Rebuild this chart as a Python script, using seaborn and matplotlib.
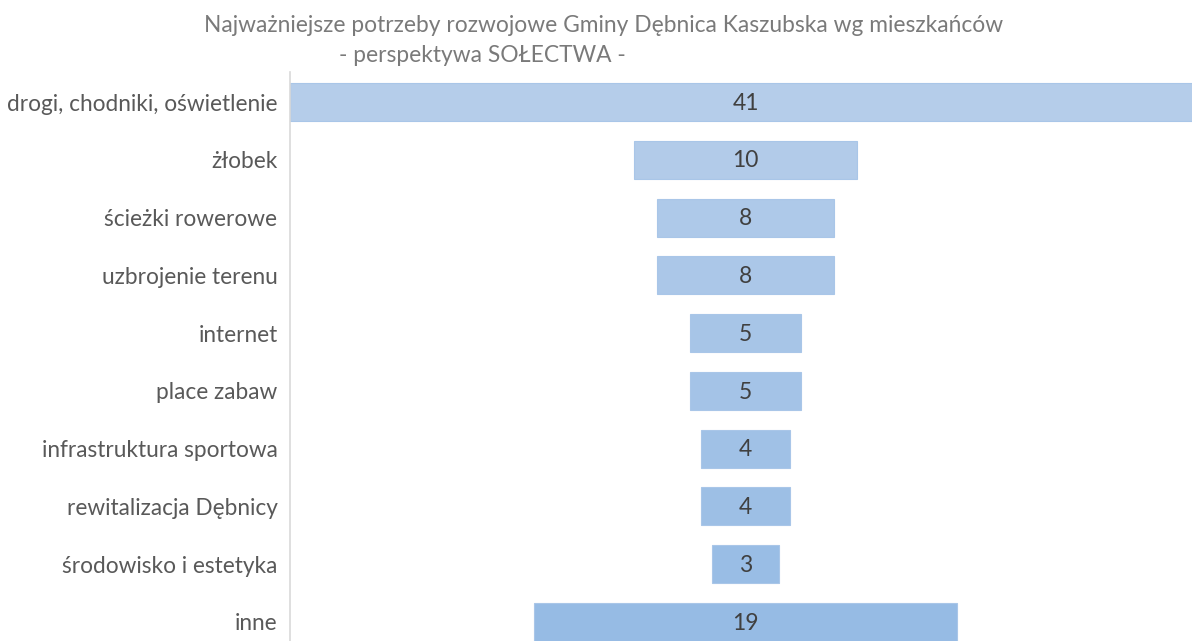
import numpy as np
import pandas as pd
import seaborn as sns
import matplotlib.pyplot as plt

categories = ["drogi, chodniki, oświetlenie", "żłobek", "ścieżki rowerowe",
              "uzbrojenie terenu", "internet", "place zabaw",
              "infrastruktura sportowa", "rewitalizacja Dębnicy",
              "środowisko i estetyka", "inne"]
values = [41, 10, 8, 8, 5, 5, 4, 4, 3, 19]
title_line1 = "Najważniejsze potrzeby rozwojowe Gminy Dębnica Kaszubska wg mieszkańców"
title_line2 = "- perspektywa SOŁECTWA -"

df = pd.DataFrame({"kategoria": categories, "liczba": values})
max_v = df["liczba"].max()
df["lewo"] = (max_v - df["liczba"]) / 2

sns.set_theme(style="white")
plt.rcParams['font.family'] = ['Lato', 'DejaVu Sans']

fig = plt.figure(figsize=(11.92, 6.41), dpi=100)
# the widest bar runs slightly past the right edge of the picture
ax = fig.add_axes([290/1192, 0, (1201 - 290)/1192, 1 - 72/641])

colors = sns.blend_palette(["#b5cdea", "#96bbe4"], len(df))
pos = np.arange(len(df))
ax.barh(pos, df["liczba"], left=df["lewo"], height=0.66, color=colors,
        edgecolor="#a9c6e8", linewidth=0.8)

for i, row in df.iterrows():
    ax.text(row["lewo"] + row["liczba"] / 2, i + 0.02, str(row["liczba"]),
            ha="center", va="center", fontsize=16.5, color="#404040")

ax.set_yticks(pos)
ax.set_yticklabels(df["kategoria"], fontsize=16.3, color="#595959")
ax.tick_params(axis="y", length=0, pad=9)
ax.set_xticks([])
ax.set_xlim(0, max_v)
ax.set_ylim(len(df) - 1 + 0.33, -0.52)
for s in ["top", "right", "bottom"]:
    ax.spines[s].set_visible(False)
ax.spines["left"].set_color("#d9d9d9")
ax.spines["left"].set_linewidth(1.2)

fig.text(604/1192, 1 - 25/641, title_line1, ha="center", va="center",
         fontsize=16.4, color="#7a7a7a")
fig.text(482/1192, 1 - 55/641, title_line2, ha="center", va="center",
         fontsize=16.4, color="#7a7a7a")

fig.savefig("out.png", dpi=100)
